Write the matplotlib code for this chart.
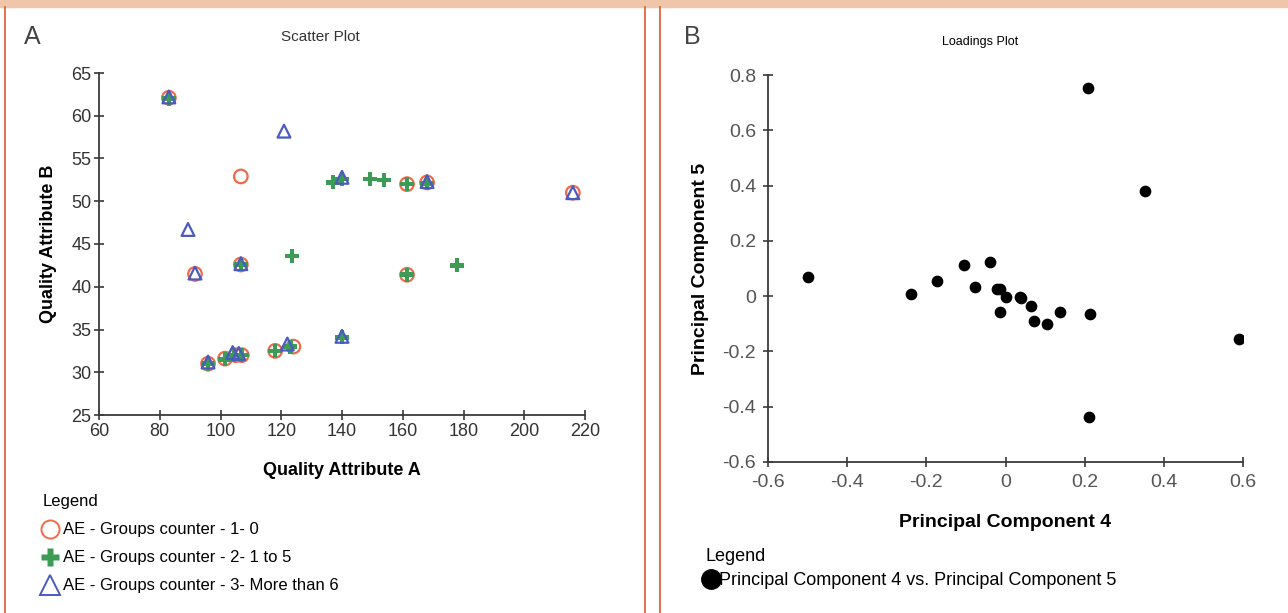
import matplotlib
matplotlib.use("Agg")
import matplotlib.pyplot as plt
from matplotlib.lines import Line2D
from matplotlib.patches import Rectangle

plt.rcParams['font.family'] = ['Liberation Sans', 'DejaVu Sans']

# --- Panel A data: Quality Attribute A vs B, three groups ---
grp1_x = [83, 106.7, 161.4, 168, 216, 91.6, 106.7, 161.4, 95.9, 101.5, 105, 107, 118, 124]
grp1_y = [62.1, 52.9, 52.0, 52.2, 51.0, 41.5, 42.6, 41.4, 31.0, 31.6, 32.0, 32.0, 32.5, 33.0]

grp2_x = [83, 137, 140, 149.2, 153.8, 161.4, 168, 123.5, 106.7, 161.4, 177.8, 140, 95.9, 101.5, 104.5, 107, 118, 123]
grp2_y = [62.0, 52.2, 52.6, 52.6, 52.5, 52.0, 52.1, 43.6, 42.6, 41.4, 42.5, 34.1, 31.0, 31.5, 32.0, 32.0, 32.5, 33.0]

grp3_x = [83, 120.9, 140, 168, 216, 89.3, 91.6, 106.7, 140, 95.9, 104, 106, 122]
grp3_y = [62.2, 58.2, 52.8, 52.3, 51.0, 46.7, 41.6, 42.7, 34.2, 31.2, 32.3, 32.2, 33.3]

grp_labels = ['AE - Groups counter - 1- 0',
              'AE - Groups counter - 2- 1 to 5',
              'AE - Groups counter - 3- More than 6']

# --- Panel B data: loadings PC4 vs PC5 ---
pc4 = [-0.498, -0.240, -0.172, -0.105, -0.078, -0.038, -0.021, -0.014, 0.0, -0.013,
       0.036, 0.040, 0.065, 0.073, 0.106, 0.137, 0.214, 0.208, 0.352, 0.589, 0.211]
pc5 = [0.070, 0.007, 0.053, 0.113, 0.034, 0.123, 0.025, 0.025, -0.002, -0.058,
       -0.002, -0.007, -0.036, -0.089, -0.101, -0.058, -0.063, 0.753, 0.379, -0.156, -0.438]

fig = plt.figure(figsize=(12.88, 6.13), dpi=100)

# frame decoration
fig.patches.append(Rectangle((0, 1 - 7 / 613), 1, 7 / 613, transform=fig.transFigure,
                             color='#F0C6AA', zorder=0))
for xp in [5, 645, 660]:
    fig.add_artist(Line2D([xp / 1288, xp / 1288], [0, 1 - 7 / 613], transform=fig.transFigure,
                          color='#E2663A', lw=1.3))

spine_col = '#3a3a3a'
txt_col = '#333333'

# --- Panel A ---
axA = fig.add_axes([99 / 1288, 1 - 415 / 613, 486 / 1288, 342 / 613])
axA.scatter(grp1_x, grp1_y, s=95, facecolors='none', edgecolors='#F06A4A', linewidths=1.6, zorder=3)
axA.scatter(grp2_x, grp2_y, s=100, marker='P', facecolors='#3C9B55', edgecolors='none', zorder=4)
axA.scatter(grp3_x, grp3_y, s=85, marker='^', facecolors='none', edgecolors='#4A5BC0', linewidths=1.6, zorder=5)
axA.set_xlim(60, 220)
axA.set_ylim(25, 65)
axA.set_xticks(range(60, 221, 20))
axA.set_yticks(range(25, 66, 5))
axA.set_xlabel('Quality Attribute A', fontsize=13, fontweight='bold', labelpad=16)
axA.set_ylabel('Quality Attribute B', fontsize=13, fontweight='bold', labelpad=10)
fig.text(320 / 1288, 1 - 37 / 613, 'Scatter Plot', fontsize=11, color=txt_col, ha='center', va='center')

handlesA = [
    Line2D([], [], marker='o', ls='none', ms=13, mfc='none', mec='#F06A4A', mew=1.4),
    Line2D([], [], marker='P', ls='none', ms=13, mfc='#3C9B55', mec='none'),
    Line2D([], [], marker='^', ls='none', ms=14, mfc='none', mec='#4A5BC0', mew=1.4),
]
legA = axA.legend(handlesA, grp_labels, loc='upper left', bbox_to_anchor=(34 / 1288, 1 - 486 / 613),
                  bbox_transform=fig.transFigure, frameon=False, title='Legend',
                  alignment='left', fontsize=12, title_fontsize=12,
                  handlelength=0.9, handletextpad=0.35, labelspacing=0.78, borderpad=0)

# --- Panel B ---
axB = fig.add_axes([768 / 1288, 1 - 462 / 613, 475 / 1288, 387 / 613])
axB.scatter(pc4, pc5, s=55, color='black', zorder=3)
axB.set_xlim(-0.6, 0.6)
axB.set_ylim(-0.6, 0.8)
axB.set_xticks([-0.6, -0.4, -0.2, 0, 0.2, 0.4, 0.6])
axB.set_xticklabels(['-0.6', '-0.4', '-0.2', '0', '0.2', '0.4', '0.6'])
axB.set_yticks([-0.6, -0.4, -0.2, 0, 0.2, 0.4, 0.6, 0.8])
axB.set_yticklabels(['-0.6', '-0.4', '-0.2', '0', '0.2', '0.4', '0.6', '0.8'])
axB.set_xlabel('Principal Component 4', fontsize=14, fontweight='bold', labelpad=17)
axB.set_ylabel('Principal Component 5', fontsize=14, fontweight='bold', labelpad=10)
fig.text(980 / 1288, 1 - 42 / 613, 'Loadings Plot', fontsize=9, color='black', ha='center', va='center')

handlesB = [Line2D([], [], marker='o', ls='none', ms=14, color='black')]
legB = axB.legend(handlesB, ['Principal Component 4 vs. Principal Component 5'], loc='upper left',
                  bbox_to_anchor=(696 / 1288, 1 - 539 / 613), bbox_transform=fig.transFigure,
                  frameon=False, title='Legend', alignment='left', fontsize=13, title_fontsize=13,
                  handlelength=0.7, handletextpad=0.1, labelspacing=0.4, borderpad=0)

for ax in (axA, axB):
    for sp in ['top', 'right']:
        ax.spines[sp].set_visible(False)
    for sp in ['left', 'bottom']:
        ax.spines[sp].set_color(spine_col)
        ax.spines[sp].set_linewidth(1.3)
    ax.tick_params(direction='inout', length=7, width=1.2, color=spine_col,
                   labelsize=13, labelcolor=txt_col, pad=2)
    ax.set_facecolor('none')
axB.tick_params(labelsize=14, labelcolor='#555555', pad=5)

fig.text(24 / 1288, 1 - 37 / 613, 'A', fontsize=18, color='#444444', va='center')
fig.text(684 / 1288, 1 - 37 / 613, 'B', fontsize=18, color='#444444', va='center')

fig.savefig('out.png', dpi=100)
